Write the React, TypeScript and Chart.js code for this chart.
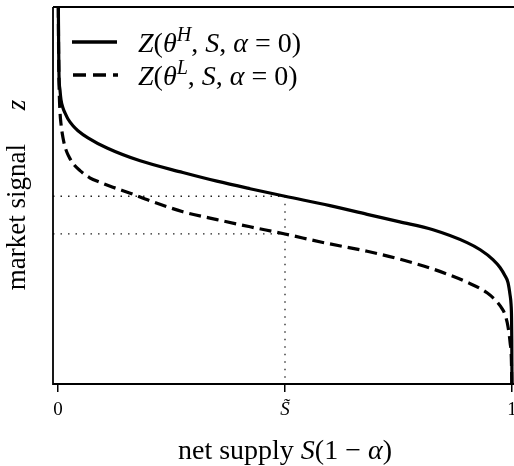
import React, { useEffect, useRef } from "react";
import { Chart, registerables } from "chart.js";

Chart.register(...registerables);

// Net supply S(1-alpha) and market signal z for the high type (solid)
const supplyH = [0.0003, 0.001, 0.0015, 0.0022, 0.0044, 0.0066, 0.011, 0.0154, 0.022, 0.033, 0.044, 0.066, 0.108, 0.181, 0.275, 0.35, 0.423, 0.5, 0.599, 0.681, 0.753, 0.826, 0.901, 0.93, 0.958, 0.9736, 0.9846, 0.9912, 0.9956, 0.998, 0.999, 0.9995, 1.0];
const signalH = [1.099, 0.966, 0.886, 0.82, 0.78, 0.754, 0.732, 0.719, 0.703, 0.685, 0.672, 0.653, 0.626, 0.592, 0.561, 0.538, 0.518, 0.498, 0.473, 0.45, 0.43, 0.409, 0.375, 0.356, 0.33, 0.309, 0.287, 0.269, 0.237, 0.21, 0.176, 0.118, -0.015];

// Low type (dashed)
const supplyL = [0.0003, 0.001, 0.0018, 0.0029, 0.0044, 0.0066, 0.011, 0.0176, 0.0242, 0.033, 0.0485, 0.07, 0.0925, 0.121, 0.159, 0.203, 0.275, 0.35, 0.423, 0.5, 0.581, 0.681, 0.753, 0.826, 0.901, 0.945, 0.967, 0.978, 0.9846, 0.9912, 0.996, 0.9985, 1.0];
const signalL = [1.099, 0.939, 0.833, 0.767, 0.722, 0.69, 0.653, 0.621, 0.603, 0.585, 0.566, 0.547, 0.535, 0.522, 0.506, 0.486, 0.457, 0.436, 0.417, 0.398, 0.376, 0.352, 0.331, 0.305, 0.27, 0.242, 0.218, 0.2, 0.184, 0.152, 0.108, 0.07, -0.028];

// Reference point S~ and the signals there
const sTilde = 0.5;
const signalHAtTilde = 0.498;
const signalLAtTilde = 0.398;

const xMin = -0.011;
const xMax = 1.0044;
const yMin = 0;
const yMax = 1;

const xTickValues = [0, 0.5, 1];
const xTickLabels = ["0", "S\u0303", "1"];
const xTickItalic = [false, true, false];

// rich text: [text, style] where style r = roman, i = italic, s = superscript italic
type Seg = [string, string];
const legendH: Seg[] = [["Z", "i"], ["(", "r"], ["\u03B8", "i"], ["H", "s"], [", ", "r"], ["S", "i"], [", ", "r"], ["\u03B1", "i"], [" = 0)", "r"]];
const legendL: Seg[] = [["Z", "i"], ["(", "r"], ["\u03B8", "i"], ["L", "s"], [", ", "r"], ["S", "i"], [", ", "r"], ["\u03B1", "i"], [" = 0)", "r"]];
const xTitle: Seg[] = [["net supply ", "r"], ["S", "i"], ["(1 \u2212 ", "r"], ["\u03B1", "i"], [")", "r"]];
const yTitle: Seg[] = [["market signal\u2003 ", "r"], ["z", "i"]];

const SERIF = '"Liberation Serif", "Times New Roman", serif';

function drawRich(ctx: CanvasRenderingContext2D, segs: Seg[], x: number, y: number, size: number, align: string) {
  const items = segs.map(([t, st]) => {
    const fs = st === "s" ? size * 0.72 : size;
    const font = `${st === "r" ? "" : "italic "}${fs}px ${SERIF}`;
    ctx.font = font;
    return { t, st, font, w: ctx.measureText(t).width };
  });
  const total = items.reduce((a, b) => a + b.w, 0);
  let cx = align === "center" ? x - total / 2 : x;
  ctx.textBaseline = "alphabetic";
  ctx.textAlign = "left";
  for (const it of items) {
    ctx.font = it.font;
    ctx.fillText(it.t, cx, it.st === "s" ? y - size * 0.4 : y);
    cx += it.w;
  }
}

const decorPlugin = {
  id: "decor",
  afterDatasetsDraw(chart: any) {
    const { ctx, chartArea } = chart;
    const { left, right, top, bottom } = chartArea;
    ctx.save();
    ctx.strokeStyle = "#000";
    ctx.lineWidth = 1.8;
    ctx.setLineDash([]);
    ctx.beginPath();
    ctx.moveTo(left, top);
    ctx.lineTo(right + 2, top);
    ctx.moveTo(left, top);
    ctx.lineTo(left, bottom);
    ctx.lineTo(right + 2, bottom);
    ctx.stroke();

    // legend
    ctx.lineWidth = 3.5;
    ctx.beginPath();
    ctx.moveTo(left + 19, top + 35);
    ctx.lineTo(left + 64, top + 35);
    ctx.stroke();
    ctx.setLineDash([13, 7]);
    ctx.beginPath();
    ctx.moveTo(left + 20, top + 68);
    ctx.lineTo(left + 65, top + 68);
    ctx.stroke();
    ctx.setLineDash([]);
    ctx.fillStyle = "#000";
    drawRich(ctx, legendH, left + 85, top + 45, 28, "left");
    drawRich(ctx, legendL, left + 85, top + 78, 28, "left");

    // axis titles
    drawRich(ctx, xTitle, 285, 459, 28, "center");
    ctx.translate(25, 195);
    ctx.rotate(-Math.PI / 2);
    drawRich(ctx, yTitle, 0, 0, 27, "center");
    ctx.restore();
  },
};

export default function App() {
  const ref = useRef<HTMLCanvasElement>(null);
  useEffect(() => {
    document.body.style.margin = "0";
    const toPts = (xs: number[], ys: number[]) => xs.map((x, i) => ({ x, y: ys[i] }));
    const chart = new Chart(ref.current!, {
      type: "line",
      data: {
        datasets: [
          {
            label: "Z(θH, S, α = 0)",
            data: toPts(supplyH, signalH),
            borderColor: "#000",
            borderWidth: 3.2,
            pointRadius: 0,
            cubicInterpolationMode: "monotone",
            order: 1,
          },
          {
            label: "Z(θL, S, α = 0)",
            data: toPts(supplyL, signalL),
            borderColor: "#000",
            borderWidth: 3.2,
            borderDash: [12, 6],
            pointRadius: 0,
            cubicInterpolationMode: "monotone",
            order: 2,
          },
          {
            label: "hH",
            data: [{ x: xMin, y: signalHAtTilde }, { x: sTilde, y: signalHAtTilde }],
            borderColor: "#222",
            borderWidth: 1.3,
            borderDash: [1.5, 6],
            pointRadius: 0,
            order: 3,
          },
          {
            label: "hL",
            data: [{ x: xMin, y: signalLAtTilde }, { x: sTilde, y: signalLAtTilde }],
            borderColor: "#222",
            borderWidth: 1.3,
            borderDash: [1.5, 6],
            pointRadius: 0,
            order: 3,
          },
          {
            label: "v",
            data: [{ x: sTilde, y: signalHAtTilde }, { x: sTilde, y: yMin }],
            borderColor: "#222",
            borderWidth: 1.3,
            borderDash: [1.5, 6],
            pointRadius: 0,
            order: 3,
          },
        ],
      },
      options: {
        responsive: false,
        animation: false,
        devicePixelRatio: 1,
        layout: { padding: { top: 7, left: 0, right: 0, bottom: 0 } },
        plugins: { legend: { display: false }, tooltip: { enabled: false } },
        scales: {
          x: {
            type: "linear",
            min: xMin,
            max: xMax,
            afterBuildTicks: (s: any) => {
              s.ticks = xTickValues.map((v) => ({ value: v }));
            },
            afterFit: (s: any) => {
              s.height = 82;
              s.paddingLeft = 0;
              s.paddingRight = 0;
            },
            grid: { drawOnChartArea: false, drawTicks: true, tickLength: 8, color: "#000", lineWidth: 1.5 },
            border: { display: false },
            ticks: {
              autoSkip: false,
              maxRotation: 0,
              padding: 7,
              color: "#000",
              font: (c: any) => ({ family: SERIF, size: 19, style: xTickItalic[c.index] ? "italic" : "normal" }),
              callback: (v: any) => {
                const i = xTickValues.indexOf(Number(v));
                return i >= 0 ? xTickLabels[i] : "";
              },
            },
          },
          y: {
            type: "linear",
            min: yMin,
            max: yMax,
            afterFit: (s: any) => {
              s.width = 53;
              s.paddingTop = 0;
              s.paddingBottom = 0;
            },
            grid: { display: false },
            border: { display: false },
            ticks: { display: false },
          },
        },
      },
      plugins: [decorPlugin],
    } as any);
    return () => chart.destroy();
  }, []);
  return (
    <div style={{ position: "fixed", left: 0, top: 0, width: 514, height: 466 }}>
      <canvas ref={ref} width={514} height={466} />
    </div>
  );
}
